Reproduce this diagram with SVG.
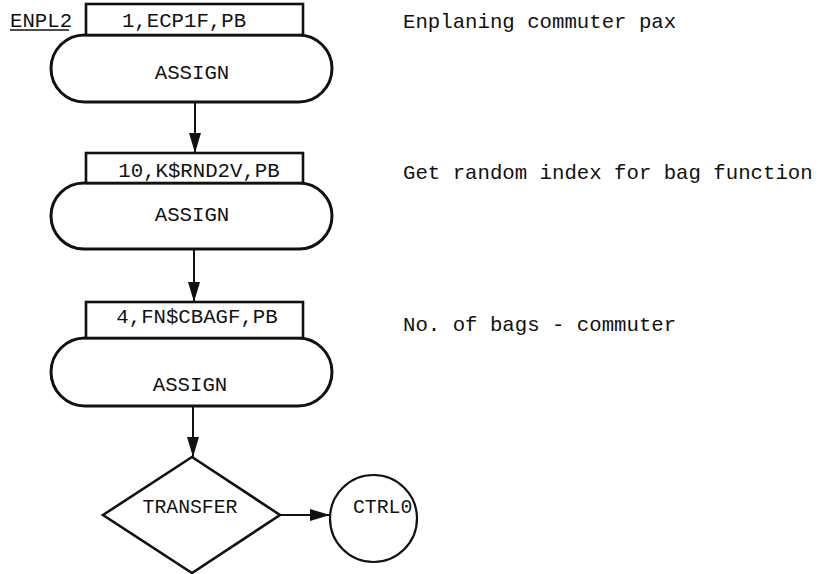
<svg xmlns="http://www.w3.org/2000/svg" width="828" height="574" viewBox="0 0 828 574">
<defs>
<style>
.t{font-family:"Liberation Mono","Courier New",monospace;font-size:20.7px;fill:#111}
.box{fill:#fff;stroke:#111;stroke-width:2.6}
.stad{fill:#fff;stroke:#111;stroke-width:3}
.ln{fill:none;stroke:#111;stroke-width:2}
</style>
<marker id="ah" markerWidth="20" markerHeight="12" refX="20" refY="6" orient="auto" markerUnits="userSpaceOnUse">
<path d="M0,0 L20,6 L0,12 Z" fill="#111"/>
</marker>
</defs>
<rect width="828" height="574" fill="#fff"/>
<g id="label-enpl2">
<text class="t" x="10" y="27">ENPL2</text>
<line x1="10" y1="30" x2="69" y2="30" stroke="#111" stroke-width="1.6"/>
</g>
<g id="connectors">
<line class="ln" x1="195" y1="102" x2="195" y2="153" marker-end="url(#ah)"/>
<line class="ln" x1="194" y1="249" x2="194" y2="302" marker-end="url(#ah)"/>
<line class="ln" x1="193" y1="406" x2="193" y2="457" marker-end="url(#ah)"/>
<line class="ln" x1="280" y1="515" x2="330" y2="515" marker-end="url(#ah)"/>
</g>
<g id="assign1">
<rect class="stad" x="51" y="35" width="281" height="67" rx="33.5"/>
<rect class="box" x="86" y="4" width="217" height="31"/>
<text class="t" x="184" y="27" text-anchor="middle">1,ECP1F,PB</text>
<text class="t" x="192" y="79" text-anchor="middle">ASSIGN</text>
</g>
<g id="assign2">
<rect class="stad" x="51" y="183" width="281" height="66" rx="33"/>
<rect class="box" x="86" y="153" width="217" height="30"/>
<text class="t" x="199" y="177" text-anchor="middle">10,K$RND2V,PB</text>
<text class="t" x="192" y="221" text-anchor="middle">ASSIGN</text>
</g>
<g id="assign3">
<rect class="stad" x="51" y="338" width="281" height="68" rx="34"/>
<rect class="box" x="86" y="302" width="217" height="36"/>
<text class="t" x="197" y="323" text-anchor="middle">4,FN$CBAGF,PB</text>
<text class="t" x="190" y="391" text-anchor="middle">ASSIGN</text>
</g>
<g id="transfer">
<polygon points="192,457 280,515 192,573 103,515" fill="#fff" stroke="#111" stroke-width="2.6"/>
<text class="t" x="190" y="513" text-anchor="middle" style="font-size:19.8px">TRANSFER</text>
</g>
<g id="ctrl0">
<circle cx="373.5" cy="518.5" r="43.5" fill="#fff" stroke="#111" stroke-width="2.2"/>
<text class="t" x="353" y="513" style="font-size:19.8px">CTRL0</text>
</g>
<g id="comments">
<text class="t" x="403" y="28">Enplaning commuter pax</text>
<text class="t" x="403" y="179">Get random index for bag function</text>
<text class="t" x="403" y="331">No. of bags - commuter</text>
</g>
</svg>
